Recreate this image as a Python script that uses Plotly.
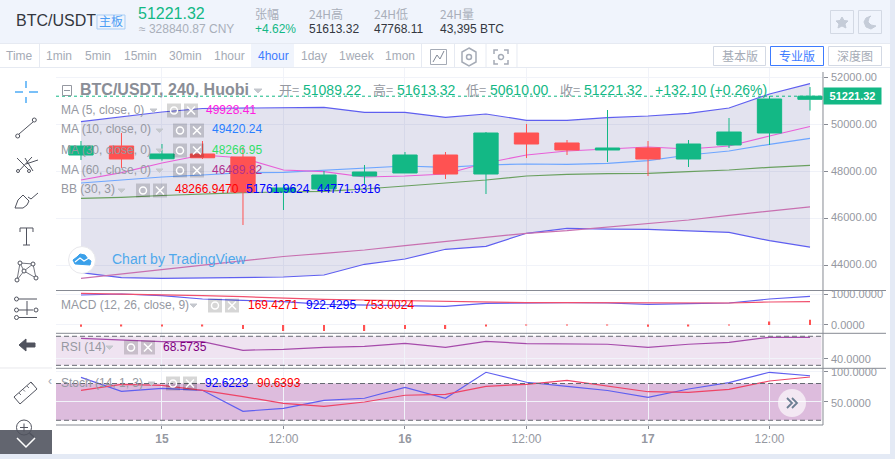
import pandas as pd
import plotly.graph_objects as go

# candles, 4h, newest last
times = pd.date_range("2021-02-14 16:00", periods=19, freq="4h")
opens = [48709, 49094, 48550, 48752, 48624, 47128, 47256, 47811, 47940, 48709, 47897, 49649, 49222, 48923, 49008, 48538, 49136, 49649, 51089.22]
highs = [49307, 49649, 49179, 49307, 49051, 47470, 48025, 48282, 48837, 48837, 49692, 50034, 49350, 50632, 49307, 49350, 50290, 51231, 51613.32]
lows = [48495, 48153, 48465, 48538, 45717, 46358, 47213, 47470, 47940, 47683, 47042, 48581, 48709, 48410, 47811, 48196, 49008, 49136, 50610.00]
closes = [49094, 48538, 48752, 48590, 47128, 47299, 47854, 47982, 48709, 47897, 49649, 49179, 48923, 49008, 48538, 49179, 49692, 51102, 51221.32]

ma5 = [47641, 47953, 48367, 48709, 48581, 48068, 47995, 47769, 47811, 47897, 48367, 48709, 48880, 48978, 49051, 48965, 49094, 49521, 49928.41]
ma10 = [47512, 47641, 47769, 47854, 47953, 47970, 48068, 48141, 48239, 48183, 48282, 48324, 48312, 48354, 48465, 48709, 48880, 49166, 49420.24]
ma30 = [46858, 46901, 46978, 47042, 47098, 47128, 47158, 47256, 47384, 47499, 47641, 47811, 47884, 47910, 47927, 47995, 48068, 48183, 48266.95]
ma60 = [43439, 43623, 43807, 43990, 44179, 44371, 44508, 44649, 44833, 45003, 45191, 45363, 45474, 45619, 45760, 45931, 46132, 46303, 46489.82]
bb_upper = [50132, 50333, 50547, 50696, 50718, 50739, 50748, 50534, 50534, 50320, 50461, 50192, 50192, 50303, 50376, 50491, 50718, 51316, 51761.96]
bb_lower = [43679, 43465, 43439, 43452, 43495, 43495, 43580, 44038, 44264, 44679, 44807, 45363, 45576, 45538, 45533, 45474, 45405, 45046, 44771.93]

macd = [968, 1000, 945, 839, 797, 752, 668, 645, 645, 603, 700, 719, 719, 710, 668, 687, 710, 839, 922.43]
macd_signal = [1023, 1000, 990, 945, 913, 861, 829, 806, 784, 752, 719, 719, 719, 719, 719, 700, 710, 742, 753.00]
macd_hist = [-60, -20, -30, -30, -130, -190, -190, -190, -130, -130, -30, -5, -5, -5, -60, -30, 10, 110, 169.43]
rsi = [67.2, 64.5, 62.6, 62.6, 50.7, 52.1, 54.8, 56.2, 60.3, 54.8, 63.1, 59.8, 59.0, 59.0, 54.8, 59.0, 61.7, 68.6, 68.57]
stoch_k = [90.1, 67.3, 72.2, 68.9, 34.6, 39.5, 52.6, 55.9, 73.8, 55.9, 98.3, 82.0, 75.4, 68.6, 57.5, 71.0, 81.3, 98.3, 92.62]
stoch_d = [68.9, 78.7, 77.1, 68.9, 58.5, 47.7, 42.8, 49.8, 60.8, 62.4, 75.4, 78.7, 85.2, 75.4, 66.6, 65.6, 70.5, 84.1, 90.64]

time_ticks = ["2021-02-15 00:00", "2021-02-15 12:00", "2021-02-16 00:00", "2021-02-16 12:00", "2021-02-17 00:00", "2021-02-17 12:00"]
time_labels = ["<b>15</b>", "12:00", "<b>16</b>", "12:00", "<b>17</b>", "12:00"]
price_ticks = [44000, 46000, 48000, 50000, 52000]
macd_ticks = [0, 1000]
rsi_ticks = [40]
stoch_ticks = [50, 100]

W, H = 895, 459
GREEN = "#13b885"
RED = "#ff5252"
GRAY = "#9598a1"
LIGHT = "#a5abb6"
ICON = "#50535e"
AXIS = "#868a93"
GRID = "#f1f3f9"
SANS = "Liberation Sans, Arial, sans-serif"
CJK = "Noto Sans CJK SC, Liberation Sans, sans-serif"
LW = 1.2


def px(x):
    return x / W


def py(y):
    return 1 - y / H


fig = go.Figure()
shapes = []
notes = []


def text(x, y, s, size=12, color=GRAY, anchor="left", font=SANS):
    # annotation boxes sit a bit low against the digits, lift them
    notes.append(dict(x=px(x), y=py(y - 1.5), xref="paper", yref="paper", text=s, showarrow=False,
                      xanchor=anchor, yanchor="middle", borderpad=0, borderwidth=0,
                      font=dict(size=size, color=color, family=font)))


def rect(x0, y0, x1, y1, fill="rgba(0,0,0,0)", border=None, layer="above", w=1):
    shapes.append(dict(type="rect", xref="paper", yref="paper", x0=px(x0), x1=px(x1), y0=py(y0), y1=py(y1),
                       fillcolor=fill, line=dict(color=border or fill, width=w if border else 0), layer=layer))


def circle(cx, cy, r, fill="rgba(0,0,0,0)", border=None, w=1):
    shapes.append(dict(type="circle", xref="paper", yref="paper", x0=px(cx - r), x1=px(cx + r), y0=py(cy - r), y1=py(cy + r),
                       fillcolor=fill, line=dict(color=border or fill, width=w if border else 0), layer="above"))


def poly(pts, color=ICON, w=1, fill=None, close=False):
    d = "M" + " L".join(f"{px(a):.5f},{py(b):.5f}" for a, b in pts) + (" Z" if close else "")
    shapes.append(dict(type="path", xref="paper", yref="paper", path=d, fillcolor=fill or "rgba(0,0,0,0)",
                       line=dict(color=color, width=w), layer="above"))


# price panes
fig.add_trace(go.Scatter(x=times, y=bb_upper, yaxis="y", mode="lines", line=dict(color="#5f5ff0", width=LW)))
fig.add_trace(go.Scatter(x=times, y=bb_lower, yaxis="y", mode="lines", line=dict(color="#5f5ff0", width=LW),
                         fill="tonexty", fillcolor="rgba(0,0,110,0.11)"))
fig.add_trace(go.Scatter(x=times, y=ma60, yaxis="y", mode="lines", line=dict(color="#c870b0", width=LW)))
fig.add_trace(go.Scatter(x=times, y=ma30, yaxis="y", mode="lines", line=dict(color="#6aa060", width=LW)))
fig.add_trace(go.Scatter(x=times, y=ma10, yaxis="y", mode="lines", line=dict(color="#6ea6ff", width=LW)))
fig.add_trace(go.Scatter(x=times, y=ma5, yaxis="y", mode="lines", line=dict(color="#e860d8", width=LW)))
fig.add_trace(go.Candlestick(x=times, open=opens, high=highs, low=lows, close=closes, yaxis="y5",
                             increasing=dict(line=dict(color=GREEN, width=1), fillcolor=GREEN),
                             decreasing=dict(line=dict(color=RED, width=1), fillcolor=RED)))

# macd
fig.add_trace(go.Bar(x=times, y=macd_hist, yaxis="y2", width=4 * 3600e3 / 30, marker=dict(color=RED, line=dict(width=0))))
fig.add_trace(go.Scatter(x=times, y=macd, yaxis="y2", mode="lines", line=dict(color="#5f5ff0", width=LW)))
fig.add_trace(go.Scatter(x=times, y=macd_signal, yaxis="y2", mode="lines", line=dict(color="#f0506e", width=LW)))

# rsi, stoch
fig.add_trace(go.Scatter(x=times, y=rsi, yaxis="y3", mode="lines", line=dict(color="#a64bab", width=LW)))
fig.add_trace(go.Scatter(x=times, y=stoch_k, yaxis="y4", xaxis="x", mode="lines", line=dict(color="#5f5ff0", width=LW)))
fig.add_trace(go.Scatter(x=times, y=stoch_d, yaxis="y4", xaxis="x", mode="lines", line=dict(color="#ee4466", width=LW)))

# bands
for yref, lo, hi, fill in (("y3", 30, 70, "#efe3f1"), ("y4", 20, 80, "#ddbcdd")):
    shapes.append(dict(type="rect", xref="x domain", yref=yref, x0=0, x1=0.998, y0=lo, y1=hi,
                       fillcolor=fill, line=dict(width=0), layer="below"))
    for v in (lo, hi):
        shapes.append(dict(type="line", xref="x domain", yref=yref, x0=0, x1=0.998, y0=v, y1=v,
                           line=dict(color="#666a72", width=1, dash="5px,3px"), layer="above"))

# last price
shapes.append(dict(type="line", xref="x domain", yref="y", x0=0, x1=1, y0=closes[-1], y1=closes[-1],
                   line=dict(color=GREEN, width=1, dash="dot"), layer="above"))

# chrome
BG = "#f0f4fc"
STRIP = "#e4eaf5"
rect(0, 0, 890, 43.5, BG, layer="below")
rect(890, 0, W, H, STRIP)
rect(0, 454, W, H, STRIP)
rect(251, 44, 294, 67, BG, layer="below")
poly([(0, 43.5), (890, 43.5)], "#e6eaf2")
poly([(0, 67.5), (890, 67.5)], "#e6eaf2")
for sx in (39.5, 421.5, 454.5, 486, 517):
    poly([(sx, 44), (sx, 67)], "#e6eaf2")

# pane frame
for dy in (290.5, 333.3, 368.3):
    poly([(56, dy), (886, dy)], AXIS)
poly([(56, 425), (823, 425)], AXIS)
poly([(823, 72), (823, 425)], AXIS)

# header
text(16, 22, "BTC/USDT", 16, "#333740")
rect(97, 15, 125, 29, "rgba(0,0,0,0)", "#a9cdf5")
text(111, 22, "主板", 12, "#4d9ef5", "center", CJK)
text(138, 15, "51221.32", 16, GREEN)
text(139, 30, "≈ 328840.87 CNY", 12, "#a9afba")
text(255, 15, "张幅", 12, "#a9afba", font=CJK)
text(255, 30, "+4.62%", 12, GREEN)
text(309, 15, "24H高", 12, "#a9afba", font=CJK)
text(309, 30, "51613.32", 12, "#333740")
text(374, 15, "24H低", 12, "#a9afba", font=CJK)
text(374, 30, "47768.11", 12, "#333740")
text(440, 15, "24H量", 12, "#a9afba", font=CJK)
text(440, 30, "43,395 BTC", 12, "#333740")

rect(830.5, 10.5, 853.5, 33.5, "rgba(0,0,0,0)", "#d3d9e4")
rect(858.5, 10.5, 881.5, 33.5, "rgba(0,0,0,0)", "#d3d9e4")
poly([(842, 17), (844, 20.5), (848, 21), (845, 24), (846, 28), (842, 26), (838, 28), (839, 24), (836, 21), (840, 20.5)],
     "#c5ccd8", 1, "#c5ccd8", True)
poly([(871, 16), (866, 18), (864, 22), (866, 27), (871, 29), (876, 26), (871, 25), (868, 22), (869, 18)],
     "#c5ccd8", 1, "#c5ccd8", True)

# interval bar
for lx, lab in ((6, "Time"), (46, "1min"), (85, "5min"), (124, "15min"), (169, "30min"), (214, "1hour"),
                (301, "1day"), (339, "1week"), (385, "1mon")):
    text(lx, 57, lab, 12, LIGHT)
text(258, 57, "4hour", 12, "#3d7bff")
rect(430.5, 49.5, 446.5, 64.5, "rgba(0,0,0,0)", LIGHT)
poly([(433, 62), (437, 55), (440, 59), (444, 51)], "#7f8794", 1)
poly([(469, 48), (476, 52), (476, 62), (469, 66), (462, 62), (462, 52)], LIGHT, 1.5, close=True)
circle(469, 57, 2.5, border=LIGHT, w=1.5)
for (ax, ay), (bx, by) in (((494, 50), (1, 1)), ((508, 50), (-1, 1)), ((494, 64), (1, -1)), ((508, 64), (-1, -1))):
    poly([(ax + bx * 4, ay), (ax, ay), (ax, ay + by * 4)], LIGHT, 1.5)
circle(501, 57, 2.5, border=LIGHT, w=1.5)

for x0, x1, lab, col in ((713, 766, "基本版", LIGHT), (770, 824, "专业版", "#3d7bff"), (828, 882, "深度图", LIGHT)):
    shapes.append(dict(type="rect", xref="paper", yref="paper", x0=px(x0 + .5), x1=px(x1 - .5), y0=py(46.5), y1=py(65.5),
                       line=dict(color="#3d7bff" if col != LIGHT else "#d3d9e4", width=1), layer="above"))
    text((x0 + x1) / 2, 57, lab, 12, col, "center", CJK)

# chart title row
rect(62.5, 85.5, 71.5, 95.5, "rgba(0,0,0,0)", GRAY)
poly([(64, 90.5), (70, 90.5)], GRAY)
text(80, 91, "<b>BTC/USDT, 240, Huobi</b>", 16, "#8a8e97")
poly([(254, 89), (262, 89), (258, 93)], "#c5c8ce", 1, "#c5c8ce", True)
for lx, vx, lab, val in ((279, 303, "开=", "51089.22"), (373, 397, "高=", "51613.32"), (466, 490, "低=", "50610.00"), (560, 584, "收=", "51221.32")):
    text(lx, 91, lab, 13, GRAY, font=CJK)
    text(vx, 91, val, 14, GREEN)
text(655, 91, "+132.10 (+0.26%)", 14, GREEN)


def legend_row(y, label, ax, gear_x, values):
    text(61, y, label, 12, GRAY)
    poly([(ax, y - 2), (ax + 7, y - 2), (ax + 3.5, y + 1.5)], "#c5c8ce", 1, "#c5c8ce", True)
    rect(gear_x, y - 7.5, gear_x + 14, y + 6.5, "rgba(0,0,0,0.16)")
    circle(gear_x + 7, y - .5, 3.5, border="#ffffff", w=1.5)
    rect(gear_x + 17, y - 7.5, gear_x + 31, y + 6.5, "rgba(0,0,0,0.16)")
    poly([(gear_x + 20, y - 4.5), (gear_x + 28, y + 3.5)], "#ffffff", 1.5)
    poly([(gear_x + 20, y + 3.5), (gear_x + 28, y - 4.5)], "#ffffff", 1.5)
    for vx, val, col in values:
        text(vx, y, val, 12, col)


legend_row(111, "MA (5, close, 0)", 150, 167, [(206, "49928.41", "#ff20e0")])
legend_row(131, "MA (10, close, 0)", 156, 173, [(212, "49420.24", "#2a7fff")])
legend_row(151, "MA (30, close, 0)", 156, 173, [(212, "48266.95", "#33e06a")])
legend_row(171, "MA (60, close, 0)", 156, 173, [(212, "46489.82", "#b03090")])
legend_row(191, "BB (30, 3)", 118, 136, [(175, "48266.9470", "#ff0000"), (246, "51761.9624", "#0000ff"), (317, "44771.9316", "#0000ff")])
legend_row(306, "MACD (12, 26, close, 9)", 190, 208, [(248, "169.4271", "#ff0000"), (306, "922.4295", "#0000ff"), (364, "753.0024", "#ff0000")])
legend_row(348, "RSI (14)", 106, 124, [(163, "68.5735", "#800080")])
legend_row(384, "Stoch (14, 1, 3)", 148, 166, [(205, "92.6223", "#0000ff"), (257, "90.6393", "#ff0000")])

# watermark
circle(82, 260, 13.5, "#ffffff", "#e8e8ec")
poly([(75, 264), (73, 260), (77, 257), (80, 254), (85, 255), (88, 259), (91, 261), (90, 265)], "#3aa0ea", 1, "#3aa0ea", True)
poly([(75, 262), (80, 258), (84, 261), (89, 258)], "#ffffff", 1.2)
text(112, 260, "Chart by TradingView", 14, "#4fa9ec")

# scroll button
circle(792, 403, 14, "rgba(255,255,255,0.65)")
poly([(787, 398), (792, 403), (787, 408)], "#6c7f93", 1.8)
poly([(792, 398), (797, 403), (792, 408)], "#6c7f93", 1.8)

# drawing tools
for seg in ([(15, 92), (23, 92)], [(29, 92), (38, 92)], [(26, 81), (26, 88)], [(26, 97), (26, 103)]):
    poly(seg, "#2196f3", 1.2)
poly([(19, 134), (33, 122)])
circle(17.7, 136, 2, "#ffffff", ICON)
circle(34.3, 120, 2, "#ffffff", ICON)
poly([(18, 172), (32, 157)])
poly([(17, 158), (29, 170)])
poly([(25, 158), (33, 171)])
poly([(26, 164), (38, 160)])
circle(18, 171, 1.5, "#ffffff", ICON)
circle(29, 171, 1.5, "#ffffff", ICON)
poly([(15, 208), (18, 200), (23, 195), (29, 201), (27, 205), (23, 208), (15, 208)])
poly([(28, 197), (31, 199), (38, 193)])
poly([(20, 232), (20, 228), (33, 228), (33, 232)])
poly([(26.5, 228), (26.5, 245)])
poly([(23, 245), (30, 245)])
nodes = [(20, 263), (33, 264), (24, 271), (17, 280), (36, 278)]
for a, b in ((0, 2), (0, 3), (2, 3), (2, 1), (1, 4), (2, 4), (0, 1)):
    poly([nodes[a], nodes[b]], ICON, .8)
for n in nodes:
    circle(n[0], n[1], 2, "#ffffff", ICON)
poly([(19, 299), (37, 299)])
poly([(19, 310), (33, 310)])
poly([(19, 317.5), (37, 317.5)])
poly([(27, 301), (27, 315)])
for cx, cy in ((16.5, 299), (16.5, 310), (16.5, 317.5), (36, 310)):
    circle(cx, cy, 2, "#ffffff", ICON)
poly([(26, 339), (19, 345), (26, 351), (26, 347), (35, 347), (35, 343), (26, 343)], ICON, 1, ICON, True)
poly([(0, 368), (52, 368)], "#e8e8ec")
text(50, 382, "‹", 12, LIGHT, "center")
poly([(14, 397), (31, 382), (37, 389), (20, 404)], ICON, 1, close=True)
for tx, ty in ((19, 393), (23, 389.5), (27, 386), (31, 382.5)):
    poly([(tx, ty), (tx + 2, ty + 2)], ICON, .8)
rect(0, 430, 52, 454, "#62656f")
poly([(17, 438), (26, 447), (35, 438)], "#ffffff", 1.5)
circle(24, 427.5, 7.5, "rgba(0,0,0,0)", ICON)
poly([(20, 427.5), (28, 427.5)], ICON)
poly([(24, 423.5), (24, 431.5)], ICON)
poly([(29.5, 433), (34, 437)], ICON, 1.5)


def y_axis(top, bottom, lo, hi, ticks):
    return dict(domain=[py(bottom), py(top)], range=[lo, hi], side="right", anchor="x", tickvals=ticks,
                ticks="outside", ticklen=4, tickcolor=AXIS, showticklabels=False,
                gridcolor=GRID, zeroline=False, showline=False, fixedrange=True)


# axis labels as annotations so they can sit centred on their ticks
for yref, vals, fmt, lift in (("y", price_ticks, ".2f", 1), ("y2", macd_ticks, ".4f", 0), ("y3", rsi_ticks, ".4f", -1), ("y4", stoch_ticks, ".4f", -1)):
    for v in vals:
        fig.add_annotation(x=1, xref="x domain", y=v, yref=yref, text=format(v, fmt), showarrow=False, xanchor="left",
                           yanchor="middle", xshift=7, yshift=lift, borderpad=0, font=dict(size=11, color=GRAY, family=SANS))

fig.add_annotation(x=1, xref="x domain", y=closes[-1], yref="y", text=f"<b>{closes[-1]:.2f}</b>", showarrow=False,
                   xanchor="left", yanchor="middle", bgcolor=GREEN, width=57, height=16, align="center",
                   borderpad=0, font=dict(size=11, color="#ffffff", family=SANS))
for n in notes:
    fig.add_annotation(n)
fig.update_layout(
    width=W, height=H, autosize=False, margin=dict(l=0, r=0, t=0, b=0), showlegend=False,
    paper_bgcolor="#ffffff", plot_bgcolor="#ffffff", boxgap=0.4, boxgroupgap=0, shapes=shapes,
    xaxis=dict(domain=[px(56), px(823)], range=["2021-02-14 13:32", "2021-02-17 17:17"], type="date", anchor="y4",
               tickvals=time_ticks, ticktext=time_labels, ticks="outside", ticklen=3, tickcolor=AXIS,
               tickfont=dict(size=12, color=GRAY, family=SANS), gridcolor=GRID, showline=False, zeroline=False,
               rangeslider=dict(visible=False), fixedrange=True),
    yaxis=y_axis(68, 290.5, 42918, 52427, price_ticks),
    yaxis2=y_axis(290.5, 333.3, -268, 1113, macd_ticks),
    yaxis3=y_axis(333.3, 368.3, 25.9, 74.1, rsi_ticks),
    yaxis4=y_axis(368.3, 425, 12.3, 104.8, stoch_ticks),
    yaxis5=dict(overlaying="y", range=[42918, 52427], visible=False, anchor="x", fixedrange=True),
)

fig.write_html("out.html", config=dict(displayModeBar=False),
               post_script="document.body.style.margin='0';document.body.style.overflow='hidden';")
